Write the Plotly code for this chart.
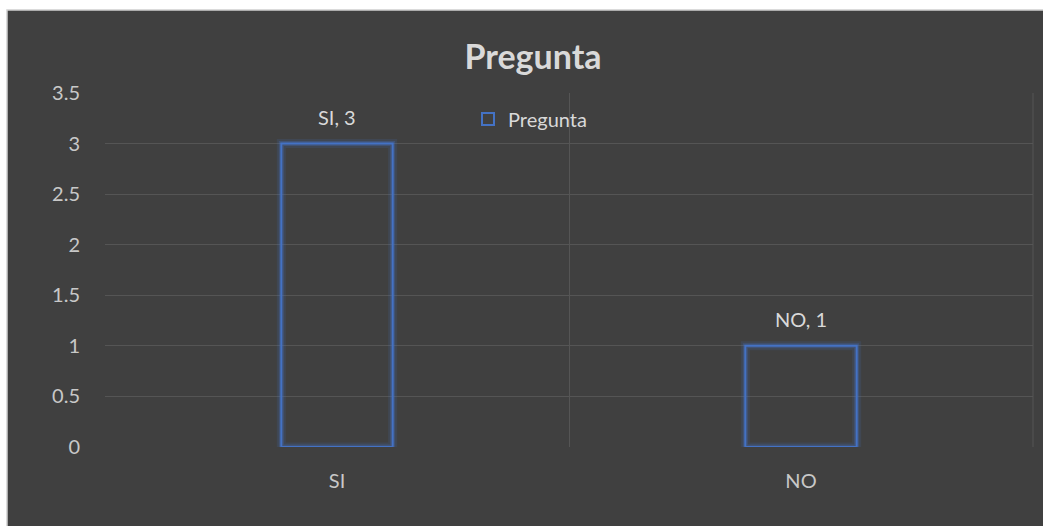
import plotly.graph_objects as go

categories = ["SI", "NO"]
values = [3, 1]
y_ticks = [0, 0.5, 1, 1.5, 2, 2.5, 3, 3.5]
y_tick_labels = ["0", "0.5", "1", "1.5", "2", "2.5", "3", "3.5"]
series_name = "Pregunta"
title_text = "Pregunta"

W, H = 1043, 526
L, R, T, B = 105, 10, 93, 79
pw = W - L - R
ph = H - T - B

def px_x(p):
    return (p - L) / pw

def px_y(p):
    return (H - B - p) / ph

BG = "#404040"
BLUE = "#4472C4"
TXT = "#d9d9d9"
TICK = "#c8c8c8"
FONT = "Lato"
FS = 20

fig = go.Figure()

# glow layers
for w, a in [(9, 0.15), (5, 0.3)]:
    fig.add_trace(go.Bar(
        x=categories, y=values, width=0.24,
        marker=dict(color="rgba(0,0,0,0)", line=dict(color="rgba(68,114,196,%s)" % a, width=w)),
        showlegend=False, hoverinfo="skip",
    ))
fig.add_trace(go.Bar(
    x=categories, y=values, width=0.24, name=series_name,
    marker=dict(color="rgba(0,0,0,0)", line=dict(color=BLUE, width=2)),
    hoverinfo="x+y",
))

annotations = [
    dict(x=c, y=v, xref="x", yref="y", text="%s, %s" % (c, v), showarrow=False,
         yanchor="bottom", yshift=13, font=dict(family=FONT, size=FS, color=TXT))
    for c, v in zip(categories, values)
]

fig.update_layout(
    width=W, height=H,
    margin=dict(l=L, r=R, t=T, b=B, autoexpand=False),
    paper_bgcolor="white", plot_bgcolor=BG,
    barmode="overlay",
    font=dict(family=FONT, size=FS, color=TXT),
    title=dict(text="<b>%s</b>" % title_text, xref="container", x=533 / W, xanchor="center",
               yref="container", y=1 - 57 / H, yanchor="middle",
               font=dict(family=FONT, size=34, color=TXT)),
    legend=dict(x=px_x(468), y=px_y(119), xanchor="left", yanchor="middle",
                bgcolor="rgba(0,0,0,0)", font=dict(family=FONT, size=FS, color=TXT),
                itemwidth=30),
    xaxis=dict(type="category", tickson="boundaries", showgrid=True,
               gridcolor="#555555", gridwidth=1, ticks="", showline=False,
               zeroline=False, range=[-0.5, 1.5],
               tickfont=dict(family=FONT, size=FS, color=TICK), ticklabelstandoff=20),
    yaxis=dict(range=[0, 3.5], tickvals=y_ticks, ticktext=y_tick_labels,
               showgrid=True, gridcolor="#555555", gridwidth=1, zeroline=False,
               showline=False, ticks="", ticklabelstandoff=24,
               tickfont=dict(family=FONT, size=FS, color=TICK)),
    annotations=annotations,
    shapes=[
        dict(type="rect", xref="paper", yref="paper", layer="below",
             x0=px_x(7), x1=px_x(W + 5), y0=px_y(H + 5), y1=px_y(10),
             fillcolor=BG, line=dict(color="#d0d0d0", width=1.5)),
        dict(type="line", xref="paper", yref="paper", layer="below",
             x0=1, x1=1, y0=0, y1=1, line=dict(color="#555555", width=1)),
    ],
)

fig.write_html("out.html", config={"displayModeBar": False},
               post_script="document.body.style.margin='0';document.body.style.overflow='hidden';")
